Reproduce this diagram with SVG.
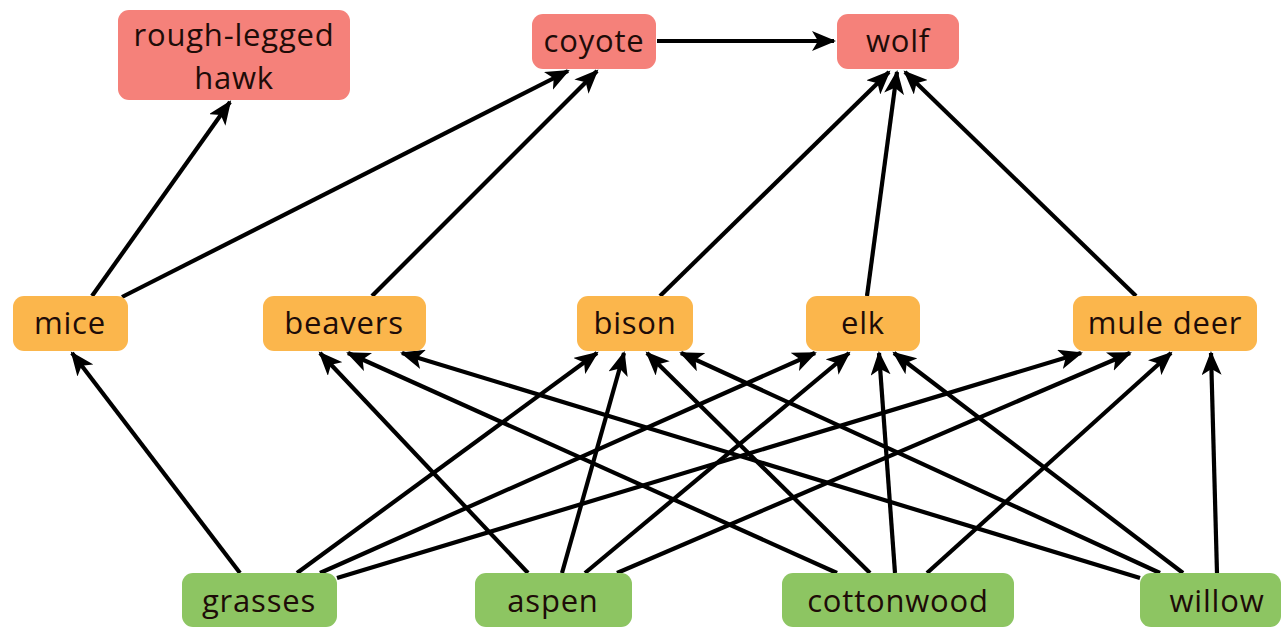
<svg xmlns="http://www.w3.org/2000/svg" width="1283" height="629" viewBox="0 0 1283 629">
<style>
.red{fill:#f5817a}
.org{fill:#fbb64c}
.grn{fill:#8dc562}
text{font-family:"Open Sans","Noto Sans",sans-serif;font-size:31px;letter-spacing:0.8px;text-anchor:middle;fill:#1e0c08}
.e{stroke:#000;stroke-width:4.2;fill:none;marker-end:url(#ah)}
</style>
<defs>
<marker id="ah" markerUnits="userSpaceOnUse" markerWidth="26" markerHeight="20" refX="22" refY="10" orient="auto">
<path d="M0,0 L24,10 L0,20 L6,10 z" fill="#000"/>
</marker>
</defs>
<rect width="1283" height="629" fill="#fff"/>
<g id="connectors">
<line class="e" x1="92" y1="296" x2="230" y2="102"/>
<line class="e" x1="122" y1="297" x2="568" y2="71"/>
<line class="e" x1="372" y1="296" x2="597" y2="71"/>
<line class="e" x1="657" y1="41" x2="834" y2="41"/>
<line class="e" x1="660" y1="296" x2="889" y2="72"/>
<line class="e" x1="867" y1="296" x2="897" y2="72"/>
<line class="e" x1="1136" y1="296" x2="905" y2="72"/>
<line class="e" x1="240" y1="573" x2="72" y2="353"/>
<line class="e" x1="297" y1="573" x2="597" y2="353"/>
<line class="e" x1="320" y1="573" x2="815" y2="353"/>
<line class="e" x1="337" y1="578" x2="1081" y2="353"/>
<line class="e" x1="528" y1="573" x2="320" y2="353"/>
<line class="e" x1="562" y1="573" x2="624" y2="353"/>
<line class="e" x1="585" y1="573" x2="849" y2="353"/>
<line class="e" x1="617" y1="573" x2="1130" y2="353"/>
<line class="e" x1="837" y1="573" x2="348" y2="353"/>
<line class="e" x1="870" y1="573" x2="647" y2="353"/>
<line class="e" x1="895" y1="573" x2="879" y2="353"/>
<line class="e" x1="927" y1="573" x2="1171" y2="353"/>
<line class="e" x1="1140" y1="578" x2="402" y2="353"/>
<line class="e" x1="1160" y1="573" x2="681" y2="353"/>
<line class="e" x1="1183" y1="573" x2="894" y2="353"/>
<line class="e" x1="1217" y1="573" x2="1211" y2="353"/>
</g>
<g id="hawk"><rect class="red" x="118" y="10" width="232" height="90" rx="11"/><text x="234" y="46">rough-legged</text><text x="234" y="89">hawk</text></g>
<g id="coyote"><rect class="red" x="532" y="14" width="124" height="55" rx="11"/><text x="594" y="52">coyote</text></g>
<g id="wolf"><rect class="red" x="837" y="14" width="122" height="55" rx="11"/><text x="898" y="52">wolf</text></g>
<g id="mice"><rect class="org" x="13" y="296" width="115" height="55" rx="11"/><text x="70" y="334">mice</text></g>
<g id="beavers"><rect class="org" x="263" y="296" width="163" height="55" rx="11"/><text x="344" y="334">beavers</text></g>
<g id="bison"><rect class="org" x="577" y="296" width="116" height="55" rx="11"/><text x="635" y="334">bison</text></g>
<g id="elk"><rect class="org" x="806" y="296" width="114" height="55" rx="11"/><text x="863" y="334">elk</text></g>
<g id="muledeer"><rect class="org" x="1073" y="296" width="184" height="55" rx="11"/><text x="1165" y="334">mule deer</text></g>
<g id="grasses"><rect class="grn" x="182" y="573" width="155" height="54" rx="11"/><text x="259" y="612">grasses</text></g>
<g id="aspen"><rect class="grn" x="475" y="573" width="157" height="54" rx="11"/><text x="553" y="612">aspen</text></g>
<g id="cottonwood"><rect class="grn" x="782" y="573" width="232" height="54" rx="11"/><text x="898" y="612">cottonwood</text></g>
<g id="willow"><rect class="grn" x="1140" y="573" width="141" height="54" rx="11"/><text x="1217" y="612">willow</text></g>
</svg>
